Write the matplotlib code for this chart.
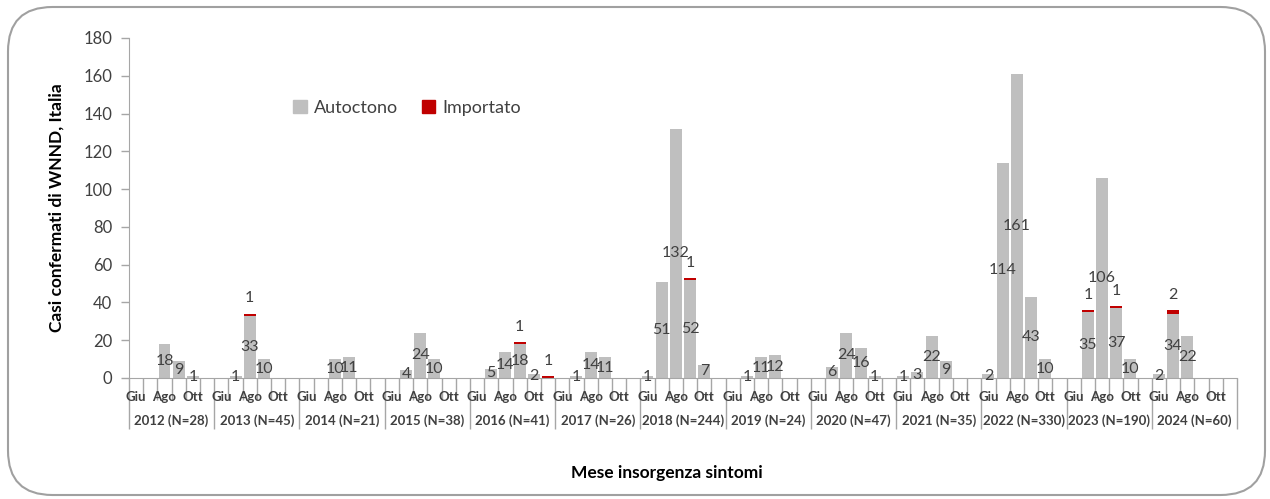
import matplotlib
matplotlib.use("Agg")
import matplotlib.pyplot as plt
from matplotlib.patches import FancyBboxPatch, Patch
import numpy as np

years = ["2012 (N=28)", "2013 (N=45)", "2014 (N=21)", "2015 (N=38)", "2016 (N=41)",
         "2017 (N=26)", "2018 (N=244)", "2019 (N=24)", "2020 (N=47)", "2021 (N=35)",
         "2022 (N=330)", "2023 (N=190)", "2024 (N=60)"]
months = ["Giu", "Lug", "Ago", "Set", "Ott", "Nov"]
shown_months = ["Giu", "Ago", "Ott"]

autoctono = [
    [0, 0, 18, 9, 1, 0],      # 2012
    [0, 1, 33, 10, 0, 0],     # 2013
    [0, 0, 10, 11, 0, 0],     # 2014
    [0, 4, 24, 10, 0, 0],     # 2015
    [0, 5, 14, 18, 2, 0],     # 2016
    [0, 1, 14, 11, 0, 0],     # 2017
    [1, 51, 132, 52, 7, 0],   # 2018
    [0, 1, 11, 12, 0, 0],     # 2019
    [0, 6, 24, 16, 1, 0],     # 2020
    [1, 3, 22, 9, 0, 0],      # 2021
    [2, 114, 161, 43, 10, 0], # 2022
    [0, 35, 106, 37, 10, 0],  # 2023
    [2, 34, 22, 0, 0, 0],     # 2024
]
importato = [
    [0, 0, 0, 0, 0, 0],
    [0, 0, 1, 0, 0, 0],
    [0, 0, 0, 0, 0, 0],
    [0, 0, 0, 0, 0, 0],
    [0, 0, 0, 1, 0, 1],
    [0, 0, 0, 0, 0, 0],
    [0, 0, 0, 1, 0, 0],
    [0, 0, 0, 0, 0, 0],
    [0, 0, 0, 0, 0, 0],
    [0, 0, 0, 0, 0, 0],
    [0, 0, 0, 0, 0, 0],
    [0, 1, 0, 1, 0, 0],
    [0, 2, 0, 0, 0, 0],
]

plt.rcParams['font.family'] = ['Lato', 'DejaVu Sans']

GRAY = "#BFBFBF"
RED = "#C00000"
AXC = "#A6A6A6"
TXT = "#404040"

auto = np.array(autoctono, dtype=float).ravel()
imp = np.array(importato, dtype=float).ravel()
nm = len(months)
n = len(auto)
x = np.arange(n)

fig = plt.figure(figsize=(12.7, 4.99), dpi=100)
ax = fig.add_axes([129/1270, 1-378/499, (1237-129)/1270, (378-38)/499])

# rounded border
fig.patches.append(FancyBboxPatch((8/1270, 4/499), 1257/1270, 488/499,
                                  boxstyle="round,pad=0,rounding_size=0.035",
                                  transform=fig.transFigure, fill=False,
                                  edgecolor="#A0A0A0", linewidth=1.5,
                                  mutation_aspect=1270/499))

w = 0.84
ax.bar(x, auto, width=w, color=GRAY, edgecolor='none', label="Autoctono", zorder=2)
ax.bar(x, imp, width=w, bottom=auto, color=RED, edgecolor='none', label="Importato", zorder=2)

# data labels
for xi, a, im in zip(x, auto, imp):
    if a > 0:
        ax.text(xi, a/2, f"{int(a)}", ha='center', va='center', fontsize=11.5,
                color=TXT, zorder=3)
    if im > 0:
        ax.annotate(f"{int(im)}", xy=(xi, a+im), xytext=(0, 11), textcoords='offset points',
                    ha='center', va='center', fontsize=11.5, color=TXT, zorder=3)

ax.set_xlim(-0.5, n-0.5)
ax.set_ylim(0, 180)
ax.set_yticks(np.arange(0, 181, 20))
ax.tick_params(axis='y', colors=AXC, labelcolor=TXT, labelsize=12, length=6, width=1, pad=6)

for s in ['top', 'right']:
    ax.spines[s].set_visible(False)
ax.spines['left'].set_color(AXC)
ax.spines['bottom'].set_color(AXC)

# category axis: month boundaries (minor), year boundaries (major)
ax.set_xticks(np.arange(0, n+1, nm) - 0.5)
ax.set_xticks(np.arange(0, n+1) - 0.5, minor=True)
ax.tick_params(axis='x', which='major', length=37, width=1, color=AXC, labelbottom=False)
ax.tick_params(axis='x', which='minor', length=16, width=1, color=AXC, labelbottom=False)

for yi, yl in enumerate(years):
    for mi, m in enumerate(months):
        if m in shown_months:
            ax.annotate(m, xy=(yi*nm+mi, 0), xycoords=('data', 'axes fraction'),
                        xytext=(0, -13.5), textcoords='offset points', ha='center', va='center',
                        fontsize=9.5, fontweight='bold', color=TXT)
    ax.annotate(yl, xy=(yi*nm + (nm-1)/2, 0), xycoords=('data', 'axes fraction'),
                xytext=(0, -30.5), textcoords='offset points', ha='center', va='center',
                fontsize=9.5, fontweight='bold', color=TXT)

ax.set_ylabel("Casi confermati di WNND, Italia", fontsize=12.5, fontweight='bold', color='black')
ax.yaxis.set_label_coords(-0.058, 0.5)
fig.text(667/1270, 1-473/499, "Mese insorgenza sintomi", ha='center', va='center',
         fontsize=12.5, fontweight='bold', color='black')

handles = [Patch(color=GRAY, label="Autoctono"), Patch(color=RED, label="Importato")]
ax.legend(handles=handles, loc='center left', bbox_to_anchor=((277-129)/1108, (378-108)/340),
          frameon=False, fontsize=13, handlelength=0.75, handleheight=0.75,
          handletextpad=0.4, ncol=2, columnspacing=1.3, labelcolor=TXT)

fig.savefig("out.png", dpi=100)
